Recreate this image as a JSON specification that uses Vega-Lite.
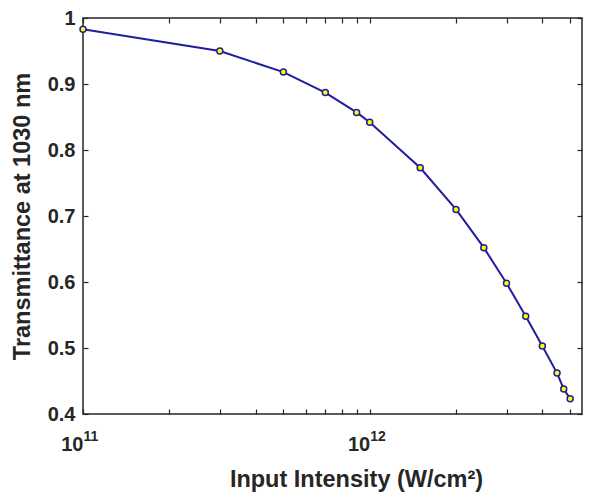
{
  "$schema": "https://vega.github.io/schema/vega-lite/v6.json",
  "width": 499,
  "height": 396,
  "autosize": {"type": "none"},
  "padding": {"left": 83, "top": 18, "right": 8, "bottom": 78},
  "background": "white",
  "config": {
    "view": {"stroke": "#262626", "strokeWidth": 1.5},
    "font": "Liberation Sans",
    "axis": {"grid": false, "domain": false, "tickColor": "#262626", "tickWidth": 1.2, "tickSize": -5, "labelColor": "#262626", "titleColor": "#262626", "labelFont": "Liberation Sans", "titleFont": "Liberation Sans", "labelFontWeight": "bold", "titleFontWeight": "bold", "labelFlush": false, "labelOverlap": false}
  },
  "data": {
    "values": [
      {"I": 1e11, "T": 0.983},
      {"I": 3e11, "T": 0.95},
      {"I": 5e11, "T": 0.918},
      {"I": 7e11, "T": 0.887},
      {"I": 9e11, "T": 0.857},
      {"I": 1e12, "T": 0.842},
      {"I": 1.5e12, "T": 0.773},
      {"I": 2e12, "T": 0.71},
      {"I": 2.5e12, "T": 0.652},
      {"I": 3e12, "T": 0.598},
      {"I": 3.5e12, "T": 0.548},
      {"I": 4e12, "T": 0.503},
      {"I": 4.5e12, "T": 0.462},
      {"I": 4.75e12, "T": 0.438},
      {"I": 5e12, "T": 0.423}
    ]
  },
  "layer": [
    {
      "mark": {"type": "line", "color": "#1f1f9c", "strokeWidth": 2},
      "encoding": {
        "x": {
          "field": "I", "type": "quantitative",
          "scale": {"type": "log", "domain": [1e11, 5.5e12]},
          "axis": {
            "orient": "bottom",
            "values": [1e11, 2e11, 3e11, 4e11, 5e11, 6e11, 7e11, 8e11, 9e11, 1e12, 2e12, 3e12, 4e12, 5e12],
            "labelExpr": "(abs(datum.value - 1e11) < 1e9 || abs(datum.value - 1e12) < 1e9) ? '10' : ''",
            "labelFontSize": 20, "labelPadding": 25, "labelAlign": "right", "labelBaseline": "top",
            "title": "Input Intensity (W/cm²)", "titleFontSize": 23.5, "titlePadding": 13, "titleX": 273, "titleAlign": "center", "titleAnchor": null
          }
        },
        "y": {
          "field": "T", "type": "quantitative",
          "scale": {"domain": [0.4, 1]},
          "axis": {
            "orient": "left",
            "values": [0.4, 0.5, 0.6, 0.7, 0.8, 0.9, 1],
            "labelExpr": "datum.value > 0.99 ? '1' : format(datum.value, '.1f')",
            "labelFontSize": 20, "labelPadding": 13,
            "title": "Transmittance at 1030 nm", "titleFontSize": 23.5, "titlePadding": 13
          }
        }
      }
    },
    {
      "mark": {"type": "line", "opacity": 0},
      "encoding": {
        "x": {
          "field": "I", "type": "quantitative",
          "scale": {"type": "log", "domain": [1e11, 5.5e12]},
          "axis": {
            "orient": "bottom",
            "values": [1e11, 1e12],
            "labelExpr": "abs(datum.value - 1e11) < 1e9 ? '11' : '12'",
            "ticks": false,
            "labelFontSize": 14, "labelPadding": 15, "labelAlign": "left", "labelBaseline": "top", "labelDx": 1,
            "title": null
          }
        },
        "y": {
          "field": "T", "type": "quantitative",
          "scale": {"domain": [0.4, 1]},
          "axis": null
        }
      }
    },
    {
      "mark": {"type": "circle", "fill": "#ffff00", "stroke": "#1f1f9c", "strokeWidth": 1.5, "size": 36, "opacity": 1},
      "encoding": {
        "x": {
          "field": "I", "type": "quantitative",
          "scale": {"type": "log", "domain": [1e11, 5.5e12]},
          "axis": {"orient": "top", "values": [1e11, 2e11, 3e11, 4e11, 5e11, 6e11, 7e11, 8e11, 9e11, 1e12, 2e12, 3e12, 4e12, 5e12], "labels": false, "title": null}
        },
        "y": {
          "field": "T", "type": "quantitative",
          "scale": {"domain": [0.4, 1]},
          "axis": {"orient": "right", "values": [0.4, 0.5, 0.6, 0.7, 0.8, 0.9, 1], "labels": false, "title": null}
        }
      }
    }
  ],
  "resolve": {"axis": {"x": "independent", "y": "independent"}}
}
